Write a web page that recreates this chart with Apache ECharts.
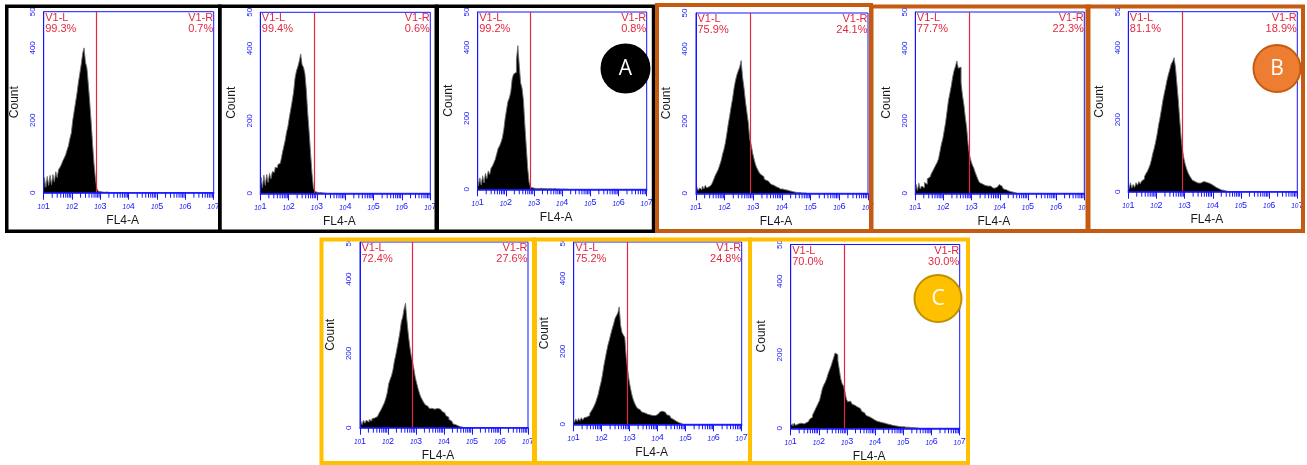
<!DOCTYPE html>
<html>
<head>
<meta charset="utf-8">
<script src="https://cdn.jsdelivr.net/npm/echarts@6/dist/echarts.min.js"></script>
<style>
html,body{margin:0;padding:0;background:#fff;}
#chart{width:1307px;height:465px;}
</style>
</head>
<body>
<div id="chart"></div>
<script>
// ---------------- DATA ----------------
// Histogram bins: log10(FL4-A) starting at binStart, spaced by binStep
const binStart = 1.0;
const binStep = 0.05;

// Counts per bin (left-to-right, top row then bottom row)
const counts1 = [12,42,15,45,20,48,22,50,30,58,42,64,70,78,88,96,105,118,130,150,165,
  200,225,250,275,305,330,355,385,400,360,345,300,250,195,135,80,40,12,4,3,
  2,2,1,2,1,1];
const counts2 = [18,45,15,50,22,52,30,55,40,60,58,72,70,80,82,90,110,128,145,168,185,
  210,232,255,280,318,338,350,365,385,355,348,330,285,220,168,110,55,15,5,3,
  2,3,2,1,2,1];
const counts3 = [30,10,32,12,38,18,45,30,52,42,60,66,75,85,100,115,122,132,145,168,200,
  225,248,258,275,312,325,330,365,405,350,300,285,250,180,120,60,20,6,4,3,
  2,3,2,2,3,2,1,2,2,1,2,1,1,2,1,1,1,1,1,0,1,0,1,1];
const counts4 = [12,18,8,15,10,20,12,22,15,18,22,20,30,40,50,58,66,78,90,108,122,
  140,165,192,215,240,262,290,312,328,340,350,368,322,292,255,225,195,150,135,112,
  95,80,70,62,55,50,46,40,36,34,30,28,24,22,20,18,16,14,12,12,
  10,10,9,8,7,6,5,4,3,3,2,2,2,1,1,1,1];
const counts5 = [10,25,8,28,12,20,15,30,25,40,45,50,55,62,70,78,85,95,115,135,150,
  172,195,225,255,275,295,320,338,350,365,345,348,305,270,245,210,180,135,105,90,
  78,70,58,48,38,30,26,24,22,22,20,18,20,16,15,14,16,18,20,24,
  20,15,12,10,8,6,5,4,3,2,1,1];
const counts6 = [15,8,25,10,20,12,25,18,28,22,30,35,42,50,56,65,75,90,108,122,140,
  160,185,205,228,252,272,290,310,326,340,355,362,372,345,300,255,200,150,115,92,
  75,62,52,44,38,32,28,26,24,23,24,26,28,28,27,25,24,22,20,17,
  14,12,10,8,6,5,4,3,2,2,1];
const counts7 = [10,18,8,20,12,20,15,22,18,24,26,28,30,34,38,45,52,60,68,80,95,
  118,130,140,155,178,195,215,235,258,285,298,320,335,290,252,220,195,178,158,135,
  120,105,92,82,75,68,62,58,55,52,52,54,50,55,52,48,50,46,44,40,
  36,32,28,22,18,14,10,8,6,5,3,2,2,1];
const counts8 = [12,5,15,8,16,10,18,12,18,20,22,24,30,36,42,50,58,70,82,100,115,
  135,160,180,200,218,232,248,262,275,290,298,305,322,272,252,245,238,185,150,122,
  100,82,68,58,50,44,40,36,34,32,30,28,27,26,25,24,22,24,26,28,
  32,34,36,35,33,30,26,24,20,17,13,10,8,6,4,3,2,1];
const counts9 = [8,12,6,14,8,12,7,14,10,12,14,15,18,21,25,30,36,44,52,60,68,
  76,92,108,118,125,135,148,158,168,180,192,205,200,185,160,135,122,115,100,80,
  72,74,70,66,63,60,58,56,54,50,46,42,38,35,32,30,28,25,23,21,
  19,18,17,16,15,14,14,12,11,10,9,8,8,7,6,6,5,5,4,4,
  4,3,3,3,2,2,2,2,1,1,1];
const allCounts = [counts1,counts2,counts3,counts4,counts5,counts6,counts7,counts8,counts9];

// Gate V1 position (log10 of FL4-A) per panel
const gateLog = [2.87,2.92,2.86,2.88,2.90,2.92,2.88,2.93,2.89];
const leftPct  = ['99.3%','99.4%','99.2%','75.9%','77.7%','81.1%','72.4%','75.2%','70.0%'];
const rightPct = ['0.7%','0.6%','0.8%','24.1%','22.3%','18.9%','27.6%','24.8%','30.0%'];
const gateLeftName = 'V1-L';
const gateRightName = 'V1-R';

// Axis ticks
const xDecadeExponents = [1,2,3,4,5,6,7];
const minorMultipliers = [2,3,4,5,6,7,8,9];
const yTickValues = [0,200,400,500];
const yTickLabels = ['0','200','400','50'];   // top label is cut off in the source
const xAxisTitle = 'FL4-A';
const yAxisTitle = 'Count';
const groupLabels = ['A','B','C'];

// ---------------- LAYOUT ----------------
const plots = [
  [43.7, 11.7, 170, 181],
  [260.3, 12.3, 170, 181],
  [477.7, 12, 169, 177.3],
  [696, 13, 172, 180.3],
  [915.3, 12, 169, 181.3],
  [1128.3, 11.7, 169, 180],
  [360, 242, 168, 185.7],
  [573.7, 242, 168, 182.3],
  [790.7, 244.5, 169, 183.8]
];
const frames = [
  [5, 4.5, 221.5, 233, '#000000', 3.5],
  [218, 4.5, 438, 233, '#000000', 3.5],
  [435.5, 4.5, 655.3, 233, '#000000', 3.5],
  [655, 3, 873, 233, '#C55A11', 4],
  [869.5, 4.5, 1090.5, 233, '#C55A11', 4],
  [1085.5, 4.5, 1305, 233, '#C55A11', 4],
  [319.5, 237.5, 537, 465, '#FFC000', 4],
  [532, 237.5, 752, 465, '#FFC000', 4],
  [748, 237.5, 970, 465, '#FFC000', 4]
];
const circles = [
  [625.5, 68.5, 24, '#000000', '#000000'],
  [1277, 68.5, 23.5, '#ED7D31', '#C55A11'],
  [938, 298.5, 23.5, '#FFC000', '#BF9000']
];

const BLUE = '#1414ff';
const RED = '#e2283f';
const FONT = '"Liberation Sans", Arial, sans-serif';

const minorTicks = [];
xDecadeExponents.slice(0, -1).forEach(d => {
  minorMultipliers.forEach(m => minorTicks.push([d + Math.log10(m), 0]));
});

const grid = [], xAxis = [], yAxis = [], series = [], graphic = [];

function txt(x, y, s, align, vAlign, color, size, z, extra) {
  return Object.assign({
    type: 'text', x: x, y: y, z: z, silent: true,
    style: {text: s, fill: color, font: size + 'px ' + FONT,
      align: align, verticalAlign: vAlign, textAlign: align, textVerticalAlign: vAlign}
  }, extra || {});
}

plots.forEach((p, i) => {
  const [L, T, W, H] = p;
  grid.push({left: L, top: T, width: W, height: H, show: true,
    borderColor: BLUE, borderWidth: 1, backgroundColor: 'rgba(0,0,0,0)', containLabel: false, outerBoundsMode: 'none'});
  xAxis.push({
    gridIndex: i, type: 'value', min: 1, max: 7, interval: 1, z: 5,
    axisLine: {show: true, lineStyle: {color: BLUE, width: 1.6}},
    axisTick: {show: true, length: 7, lineStyle: {color: BLUE, width: 1}},
    splitLine: {show: false},
    axisLabel: {
      margin: 9, showMinLabel: true, showMaxLabel: true,
      formatter: v => '{a|10}{b|' + v + '}',
      rich: {
        a: {fontSize: 6.5, fontStyle: 'italic', color: BLUE, fontFamily: FONT, verticalAlign: 'bottom'},
        b: {fontSize: 9, color: BLUE, fontFamily: FONT, verticalAlign: 'top'}
      }
    },
    name: xAxisTitle, nameLocation: 'middle', nameGap: 22,
    nameTextStyle: {fontSize: 12, color: '#1a1a1a', fontFamily: FONT, padding: [0, 12, 0, 0]}
  });
  yAxis.push({
    gridIndex: i, type: 'value', min: 0, max: 500, interval: 100, z: 5,
    axisLine: {show: true, lineStyle: {color: BLUE, width: 1}},
    axisTick: {show: false}, splitLine: {show: false},
    axisLabel: {
      rotate: 90, fontSize: 8, color: BLUE, fontFamily: FONT, margin: 7,
      showMinLabel: true, showMaxLabel: true,
      formatter: v => { const k = yTickValues.indexOf(v); return k < 0 ? '' : yTickLabels[k]; }
    },
    name: yAxisTitle, nameLocation: 'middle', nameGap: 23,
    nameTextStyle: {fontSize: 12, color: '#1a1a1a', fontFamily: FONT}
  });
  series.push({
    type: 'line', xAxisIndex: i, yAxisIndex: i, z: 2, silent: true, animation: false,
    data: allCounts[i].map((c, k) => [binStart + k * binStep, c]),
    step: 'middle', showSymbol: false, symbol: 'none',
    lineStyle: {color: '#707070', width: 0.9},
    areaStyle: {color: '#000000', opacity: 1},
    markLine: {
      silent: true, symbol: 'none', animation: false, label: {show: false},
      lineStyle: {color: RED, width: 1.2, type: 'solid'},
      data: [{xAxis: gateLog[i]}]
    }
  });
  series.push({
    type: 'custom', xAxisIndex: i, yAxisIndex: i, z: 6, silent: true, clip: false, animation: false,
    data: minorTicks,
    renderItem: (params, api) => {
      const pt = api.coord([api.value(0), 0]);
      return {type: 'line', shape: {x1: pt[0], y1: pt[1], x2: pt[0], y2: pt[1] + 5},
        style: {stroke: BLUE, lineWidth: 1}};
    }
  });
  // gate labels
  graphic.push(txt(L + 1.5, T + 0.5, gateLeftName, 'left', 'top', RED, 11, 50));
  graphic.push(txt(L + 1.5, T + 11.5, leftPct[i], 'left', 'top', RED, 11, 50));
  graphic.push(txt(L + W - 0.5, T + 0.5, gateRightName, 'right', 'top', RED, 11, 50));
  graphic.push(txt(L + W - 0.5, T + 11.5, rightPct[i], 'right', 'top', RED, 11, 50));
});

frames.forEach(f => {
  const [x0, y0, x1, y1, col, w] = f;
  graphic.push({type: 'rect', z: 100, silent: true,
    shape: {x: x0 + w / 2, y: y0 + w / 2, width: x1 - x0 - w, height: y1 - y0 - w},
    style: {fill: 'none', stroke: col, lineWidth: w}});
});

circles.forEach((c, k) => {
  const [cx, cy, r, fill, stroke] = c;
  graphic.push({type: 'circle', z: 110, silent: true, shape: {cx: cx, cy: cy, r: r},
    style: {fill: fill, stroke: stroke, lineWidth: 2}});
  graphic.push(txt(cx, cy + 1, groupLabels[k], 'center', 'middle', '#ffffff', 21, 111,
    {style: {text: groupLabels[k], fill: '#ffffff', font: '21px "Open Sans", "Liberation Sans", sans-serif',
      align: 'center', verticalAlign: 'middle', textAlign: 'center', textVerticalAlign: 'middle'}}));
});

const chart = echarts.init(document.getElementById('chart'), null, {renderer: 'canvas'});
chart.setOption({
  backgroundColor: '#ffffff',
  animation: false,
  grid: grid, xAxis: xAxis, yAxis: yAxis, series: series,
  graphic: {elements: graphic}
});
</script>
</body>
</html>
